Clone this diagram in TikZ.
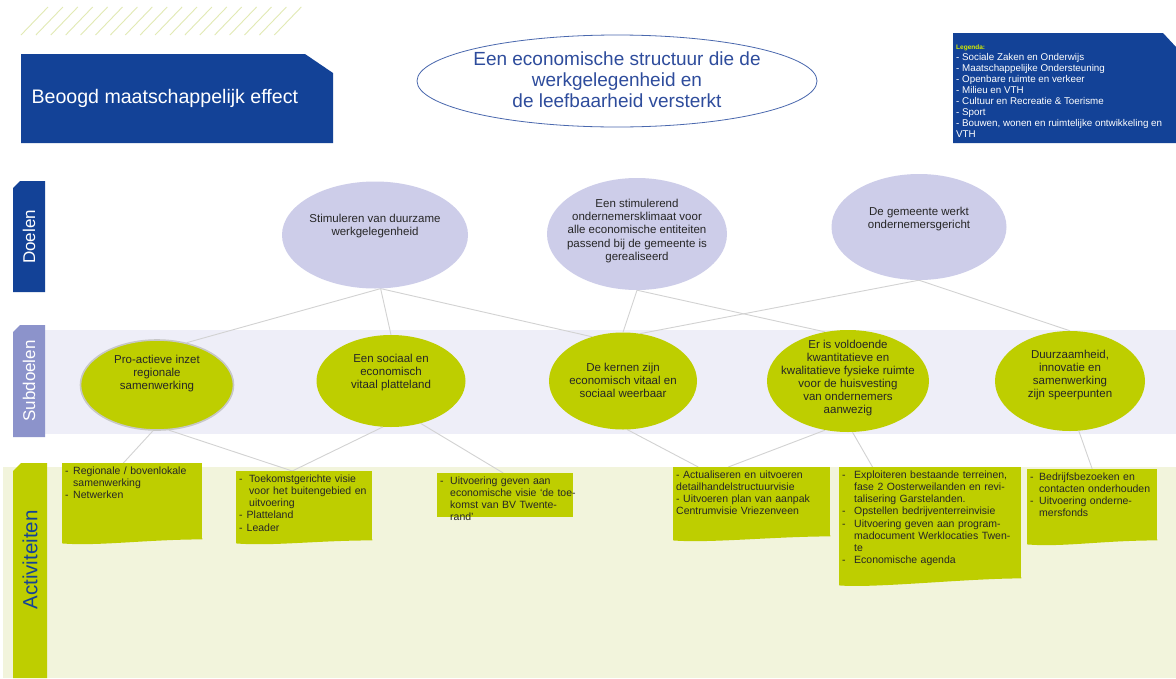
\documentclass[tikz,border=0pt]{standalone}
\usepackage{fontspec}
\setmainfont{Liberation Sans}
\usepackage{xcolor}
\usepackage{tikz}
\usetikzlibrary{positioning, shapes.geometric}

\definecolor{effectblue}{HTML}{134297}
\definecolor{ellipseblue}{HTML}{4A68AE}
\definecolor{titleblue}{HTML}{2E4C9C}
\definecolor{goalfill}{HTML}{CDCDE9}
\definecolor{subtab}{HTML}{8C93CB}
\definecolor{subband}{HTML}{EEEEF8}
\definecolor{limefill}{HTML}{BECE00}
\definecolor{actband}{HTML}{F2F4DC}
\definecolor{hatchgreen}{HTML}{E2EAB4}
\definecolor{linkgrey}{HTML}{D2D2D2}
\definecolor{legendyellow}{HTML}{D4EC00}

\newcommand{\actdash}[1][8pt]{\makebox[#1][l]{-}}
\newcommand{\actind}[1][8pt]{\hspace*{#1}}
\newcommand{\actwave}[2]{\fill[limefill] (#1.south west) ++(0,-1) -- ++(0,#2+1) .. controls +(35,3) and +(-55,0) .. (#1.south east) -- ++(0,-1) -- cycle;}

\pgfdeclarelayer{bands}
\pgfdeclarelayer{links}
\pgfsetlayers{bands,links,main}

\begin{document}
\begin{tikzpicture}[x=1pt, y=-1pt,
    goal/.style={ellipse, fill=goalfill, inner sep=0pt},
    goaltext/.style={align=center, font=\fontsize{11.5}{13.3}\selectfont, text=black!85},
    subgoal/.style={ellipse, fill=limefill, inner sep=0pt},
    subtext/.style={align=center, font=\fontsize{11.5}{13}\selectfont, text=black!85},
    actbox/.style={rectangle, fill=limefill, anchor=north west, inner sep=3pt, align=left, text height=8pt, font=\fontsize{10.5}{12.2}\selectfont, text=black!85},
    tabtext/.style={rotate=90, font=\fontsize{17}{17}\selectfont},
    link/.style={draw=linkgrey, line width=0.9pt},
    hatch/.style={draw=hatchgreen, line width=0.9pt}
]
\useasboundingbox (0,0) rectangle (1176,678);

\begin{pgfonlayer}{bands}
\fill[white] (0,0) rectangle (1176,678);
\fill[subband] (45,330) rectangle (1176,434);
\fill[actband] (3,467) rectangle (1176,678);
\end{pgfonlayer}

\foreach \i in {0,...,17}
    \draw[hatch] (21+\i*14.9,35) -- ++(27,-28);

\fill[effectblue] (21,54) -- (305,54) -- (333,73) -- (333,143) -- (21,143) -- cycle;
\node[anchor=west, text=white, font=\fontsize{19.6}{21}\selectfont] (effectlabel) at (28,98) {Beoogd maatschappelijk effect};

\node[ellipse, draw=ellipseblue, line width=0.8pt, fill=white, minimum width=400, minimum height=92, inner sep=0pt] (effect) at (617,81) {};
\node[align=center, text=titleblue, font=\fontsize{19}{21}\selectfont] (effecttxt) at (617,80) {Een economische structuur die de\\werkgelegenheid en\\de leefbaarheid versterkt};

\fill[effectblue] (953,33) -- (1163,33) -- (1176,47) -- (1176,143) -- (953,143) -- cycle;
\node[anchor=north west, align=left, inner sep=0pt, text=white, font=\fontsize{9.8}{11}\selectfont] (portfolio) at (956,45) {{\color{legendyellow}\fontsize{6.5}{11}\selectfont\bfseries Legenda:}\\
    - Sociale Zaken en Onderwijs\\
    - Maatschappelijke Ondersteuning\\
    - Openbare ruimte en verkeer\\
    - Milieu en VTH\\
    - Cultuur en Recreatie \& Toerisme\\
    - Sport\\
    - Bouwen, wonen en ruimtelijke ontwikkeling en\\
    VTH};

\fill[effectblue] (13,188) -- (20,181) -- (45,181) -- (45,292) -- (13,292) -- cycle;
\node[tabtext, text=white] (doelentab) at (29,237) {Doelen};
\fill[subtab] (13,332) -- (20,325) -- (45,325) -- (45,437) -- (13,437) -- cycle;
\node[tabtext, text=white] (subdoelentab) at (29,381) {Subdoelen};
\fill[limefill] (13,471) -- (21,463) -- (47,463) -- (47,678) -- (13,678) -- cycle;
\node[tabtext, text=effectblue, font=\fontsize{20.5}{20.5}\selectfont] (activiteitentab) at (30,560) {Activiteiten};

\node[goal, minimum width=186, minimum height=107] (doel1) at (375,235) {};
\node[goaltext] (doel1txt) at (375,226) {Stimuleren van duurzame\\werkgelegenheid};
\node[goal, minimum width=180, minimum height=112] (doel2) at (637,234) {};
\node[goaltext] (doel2txt) at (637,231) {Een stimulerend\\ondernemersklimaat voor\\alle economische entiteiten\\passend bij de gemeente is\\gerealiseerd};
\node[goal, minimum width=175, minimum height=106] (doel3) at (919,227) {};
\node[goaltext] (doel3txt) at (919,219) {De gemeente werkt\\ondernemersgericht};

\node[subgoal, draw=black!22, line width=1.6pt, minimum width=153, minimum height=90] (sub1) at (157,385) {};
\node[subtext] (sub1txt) at (157,374) {Pro-actieve inzet\\regionale\\samenwerking};
\node[subgoal, minimum width=149, minimum height=92] (sub2) at (391,381) {};
\node[subtext] (sub2txt) at (391,373) {Een sociaal en\\economisch\\vitaal platteland};
\node[subgoal, minimum width=148, minimum height=97] (sub3) at (623,381) {};
\node[subtext] (sub3txt) at (623,380) {De kernen zijn\\economisch vitaal en\\sociaal weerbaar};
\node[subgoal, minimum width=162, minimum height=102] (sub4) at (848,381) {};
\node[subtext] (sub4txt) at (848,378) {Er is voldoende\\kwantitatieve en\\kwalitatieve fysieke ruimte\\voor de huisvesting\\van ondernemers\\aanwezig};
\node[subgoal, minimum width=150, minimum height=100] (sub5) at (1070,381) {};
\node[subtext] (sub5txt) at (1070,375) {Duurzaamheid,\\innovatie en\\samenwerking\\zijn speerpunten};

\node[actbox, text width=134, text depth=62] (act1) at (62,463) {\actdash Regionale / bovenlokale\\\actind samenwerking\\\actdash Netwerken};
\actwave{act1}{4}
\node[actbox, text width=130, text depth=55] (act2) at (236,471) {\actdash[10pt]Toekomstgerichte visie\\\actind[10pt]voor het buitengebied en\\\actind[10pt]uitvoering\\\actdash[7.5pt]Platteland\\\actdash[7.5pt]Leader};
\actwave{act2}{3}
\node[actbox, text width=130, text depth=30] (act3) at (437,473) {\actdash[10pt]Uitvoering geven aan\\\actind[10pt]\mbox{economische visie `de toe-}\\\actind[10pt]\mbox{komst van BV Twente-}\\\actind[10pt]rand'};
\node[actbox, text width=151, text depth=55] (act4) at (673,467) {- Actualiseren en uitvoeren\\detailhandelstructuurvisie\\- Uitvoeren plan van aanpak\\Centrumvisie Vriezenveen};
\actwave{act4}{4}
\node[actbox, text width=176, text depth=97] (act5) at (839,467) {\actdash[12pt]Exploiteren bestaande terreinen,\\\actind[12pt]fase 2 Oosterweilanden en revi-\\\actind[12pt]talisering Garstelanden.\\\actdash[12pt]Opstellen bedrijventerreinvisie\\\actdash[12pt]Uitvoering geven aan program-\\\actind[12pt]madocument Werklocaties Twen-\\\actind[12pt]te\\\actdash[12pt]Economische agenda};
\actwave{act5}{7}
\node[actbox, text width=124, text depth=57] (act6) at (1027,469) {\actdash[9pt]Bedrijfsbezoeken en\\\actind[9pt]contacten onderhouden\\\actdash[9pt]Uitvoering onderne-\\\actind[9pt]mersfonds};
\actwave{act6}{4}

\begin{pgfonlayer}{links}
\draw[link] (doel1.-84) -- (sub1.55);
\draw[link] (doel1.-84) -- (sub2.north);
\draw[link] (doel1.-84) -- (sub3.125);
\draw[link] (doel2.south) -- (sub3.north);
\draw[link] (doel2.south) -- (sub4.115);
\draw[link] (doel3.south) -- (sub3.70);
\draw[link] (doel3.south) -- (sub5.north);
\draw[link] (sub1.-95) -- (act1.103);
\draw[link] (sub1.-75) -- (act2.109);
\draw[link] (sub2.-100) -- (act2.109);
\draw[link] (sub2.-55) -- (act3.95);
\draw[link] (sub3.-85) -- (act4.147);
\draw[link] (sub4.-115) -- (act4.124);
\draw[link] (sub4.-85) -- (act5.136);
\draw[link] (sub5.-80) -- (act6.north);
\end{pgfonlayer}

\end{tikzpicture}
\end{document}
